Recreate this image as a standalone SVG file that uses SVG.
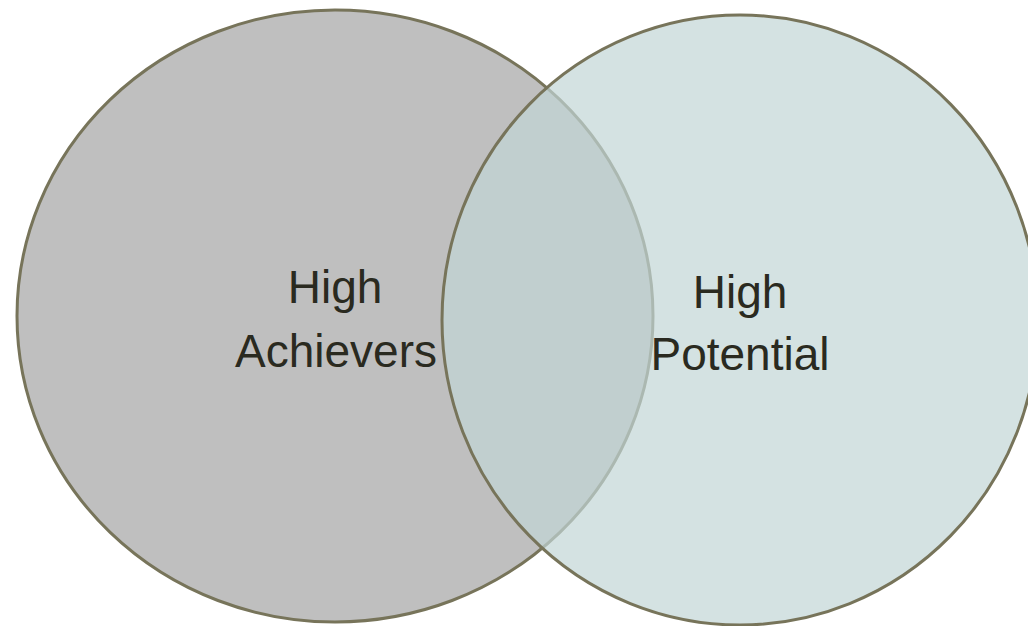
<svg xmlns="http://www.w3.org/2000/svg" width="1028" height="626" viewBox="0 0 1028 626">
<style>
.lbl{font-family:"Liberation Sans",Arial,sans-serif;font-size:46px;fill:#2a2a20;text-anchor:middle}
.ring{stroke:#77745a;stroke-width:3}
</style>
<rect width="1028" height="626" fill="#ffffff"/>
<g id="high-achievers">
<ellipse class="ring" cx="335" cy="316" rx="318" ry="306" fill="#bfbfbf"/>
</g>
<g id="high-potential">
<ellipse cx="740" cy="320" rx="298" ry="305" fill="#c2d6d6" fill-opacity="0.7"/>
<ellipse class="ring" cx="740" cy="320" rx="298" ry="305" fill="none"/>
</g>
<g id="connectors"></g>
<g id="labels">
<text class="lbl" x="335" y="303">High</text>
<text class="lbl" x="336" y="367">Achievers</text>
<text class="lbl" x="740" y="308">High</text>
<text class="lbl" x="740" y="370">Potential</text>
</g>
</svg>
